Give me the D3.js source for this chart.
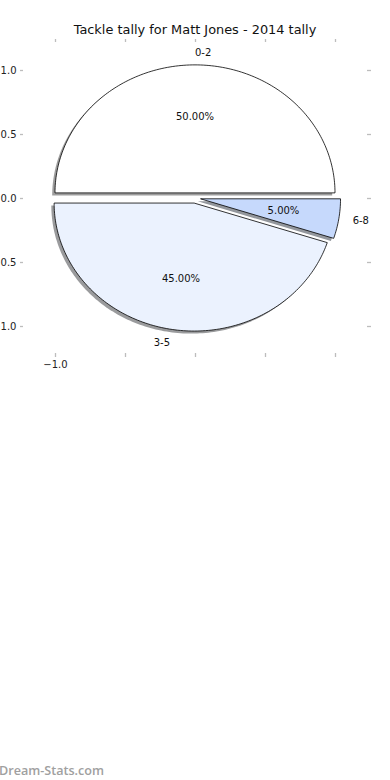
<!DOCTYPE html>
<html>
<head>
<meta charset="utf-8">
<script src="https://cdn.jsdelivr.net/npm/d3@7"></script>
<style>
  body { margin: 0; background: #fff; }
  svg { display: block; font-family: "DejaVu Sans", sans-serif; }
</style>
</head>
<body>
<svg width="390" height="780"></svg>
<script>
const categories = ["0-2", "3-5", "6-8"],
      counts = [10, 9, 1],
      colors = ["#ffffff", "#ebf2fe", "#c6d9fc"],
      ticks = [-1, -0.5, 0, 0.5, 1],
      yTickLabels = ["−1.0", "−0.5", "0.0", "0.5", "1.0"],
      xTickLabels = ["−1.0", "", "", "", ""]

const svg = d3.select("svg"),
      explode = 0.04,
      box = {left: 23, right: 367, top: 42, bottom: 353}

const x = d3.scaleLinear().domain([-1, 1]).range([55, 335]),
      y = d3.scaleLinear().domain([-1, 1]).range([326, 70])

// axes: ticks only, no spines
const tickStyle = g => {
  g.select(".domain").remove()
  g.selectAll(".tick line").attr("stroke", "#bdbdbd").attr("stroke-width", 1.3)
  g.selectAll(".tick text").attr("fill", "#222").style("font-size", "10px").style("font-family", "DejaVu Sans")
}
svg.append("g").attr("transform", `translate(${box.left},0)`)
  .call(d3.axisLeft(y).tickValues(ticks).tickSize(3).tickPadding(3.5).tickFormat((d, i) => yTickLabels[i])).call(tickStyle)
svg.append("g").attr("transform", `translate(${box.right},0)`)
  .call(d3.axisRight(y).tickValues(ticks).tickSize(4).tickFormat("")).call(tickStyle)
svg.append("g").attr("transform", `translate(0,${box.top})`)
  .call(d3.axisTop(x).tickValues(ticks).tickSize(3).tickFormat("")).call(tickStyle)
svg.append("g").attr("transform", `translate(0,${box.bottom})`)
  .call(d3.axisBottom(x).tickValues(ticks).tickSize(4).tickPadding(3.5).tickFormat((d, i) => xTickLabels[i])).call(tickStyle)

// slices, counterclockwise from 0 degrees
const total = d3.sum(counts)
let acc = 0
const slices = counts.map((v, i) => {
  const a0 = acc / total * 2 * Math.PI
  acc += v
  const a1 = acc / total * 2 * Math.PI, mid = (a0 + a1) / 2
  return {cat: categories[i], v, color: colors[i], a0, a1, mid,
          cx: explode * Math.cos(mid), cy: explode * Math.sin(mid)}
})

const line = d3.line().x(p => x(p[0])).y(p => y(p[1]))
const wedge = (s, dx, dy) => {
  const pts = [[s.cx + dx, s.cy + dy]]
  const n = Math.max(4, Math.ceil((s.a1 - s.a0) / 0.02))
  for (let k = 0; k <= n; k++) {
    const t = s.a0 + (s.a1 - s.a0) * k / n
    pts.push([s.cx + dx + Math.cos(t), s.cy + dy + Math.sin(t)])
  }
  return line(pts) + "Z"
}

svg.append("g").selectAll("path").data(slices).join("path")
  .attr("d", s => wedge(s, -0.02, -0.02))
  .attr("fill", s => { const c = d3.rgb(s.color); return d3.rgb(c.r * 0.3, c.g * 0.3, c.b * 0.3) })
  .attr("fill-opacity", 0.55)

svg.append("g").selectAll("path").data(slices).join("path")
  .attr("d", s => wedge(s, 0, 0))
  .attr("fill", s => s.color).attr("stroke", "#000").attr("stroke-width", 0.8).attr("stroke-linejoin", "round")

svg.append("g").selectAll("text").data(slices).join("text")
  .attr("x", s => x(s.cx + 1.1 * Math.cos(s.mid)))
  .attr("y", s => y(s.cy + 1.1 * Math.sin(s.mid)))
  .attr("text-anchor", s => Math.cos(s.mid) > -1e-9 ? "start" : "end")
  .attr("dominant-baseline", "central")
  .style("font-size", "10px").attr("fill", "#111")
  .text(s => s.cat)

svg.append("g").selectAll("text").data(slices).join("text")
  .attr("x", s => x(s.cx + 0.6 * Math.cos(s.mid)))
  .attr("y", s => y(s.cy + 0.6 * Math.sin(s.mid)))
  .attr("text-anchor", "middle")
  .attr("dominant-baseline", "central")
  .style("font-size", "10px").attr("fill", "#111")
  .text(s => (s.v / total * 100).toFixed(2) + "%")

svg.append("text").text("Tackle tally for Matt Jones - 2014 tally")
  .attr("x", 195).attr("y", 34).attr("text-anchor", "middle")
  .style("font-size", "12.9px").attr("fill", "#111")

svg.append("text").text("Dream-Stats.com")
  .attr("x", -1).attr("y", 775)
  .style("font-family", "'Open Sans', sans-serif").style("font-size", "12.6px").style("font-weight", 600)
  .attr("fill", "#a0a0a0")
</script>
</body>
</html>
